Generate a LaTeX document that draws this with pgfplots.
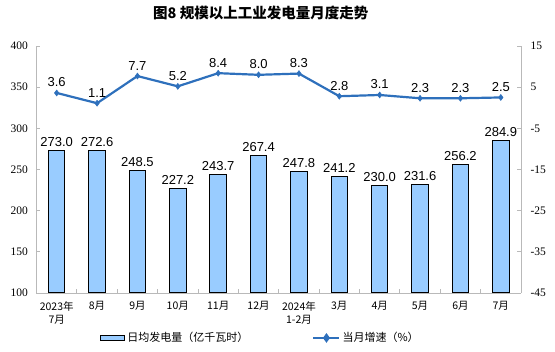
\documentclass[border=0pt]{standalone}
\usepackage{fontspec}
\usepackage{pgfplots}
\pgfplotsset{compat=1.18}
\setmainfont{Liberation Serif}
\newfontfamily\cjk{Noto Sans CJK SC}
\newfontfamily\arial{Liberation Sans}
\definecolor{barfill}{RGB}{153,204,255}
\definecolor{linecol}{RGB}{46,112,188}
\definecolor{axgray}{RGB}{185,185,185}
\begin{document}
\begin{tikzpicture}
\path[use as bounding box] (-36.5pt,-59pt) rectangle (518.5pt,293pt);
\begin{axis}[
  scale only axis, width=484.5pt, height=247pt,
  xmin=-0.5, xmax=11.5, ymin=100, ymax=400,
  ytick={100,150,...,400},
  axis x line*=bottom, axis y line*=left,
  axis line style={-, axgray, line width=0.8pt},
  xtick={0,...,11},
  xticklabels={{2023年\\7月},8月,9月,10月,11月,12月,{2024年\\1-2月},3月,4月,5月,6月,7月},
  xticklabel style={font=\cjk\fontsize{10.5}{13}\selectfont, align=center, anchor=north, yshift=-5pt},
  major x tick style={draw=none},
  minor x tick num=1,
  minor x tick style={axgray, line width=0.8pt},
  minor tick length=4pt,
  major tick length=4pt,
  y tick style={axgray, line width=0.8pt},
  yticklabel style={font=\fontsize{11.5}{13}\selectfont, xshift=-5pt},
  /pgf/number format/assume math mode=true,
  title={图8\ 规模以上工业发电量月度走势},
  title style={font=\cjk\bfseries\fontsize{14.5}{16}\selectfont, at={(0.463,1.109)}, anchor=center},
]
\addplot[ybar, bar width=16.5pt, fill=barfill, draw=black, line width=1pt,
  nodes near coords,
  every node near coord/.append style={anchor=base, yshift=4pt, inner sep=0pt, black,
    font=\arial\fontsize{13}{14}\selectfont,
    /pgf/number format/fixed, /pgf/number format/fixed zerofill, /pgf/number format/precision=1,
    /pgf/number format/assume math mode=true}]
  coordinates {(0,273.0) (1,272.6) (2,248.5) (3,227.2) (4,243.7) (5,267.4) (6,247.8) (7,241.2) (8,230.0) (9,231.6) (10,256.2) (11,284.9)};
\end{axis}
\begin{axis}[
  scale only axis, width=484.5pt, height=247pt,
  xmin=-0.5, xmax=11.5, ymin=-45, ymax=15,
  ytick={-45,-35,...,15},
  axis x line=none, axis y line*=right,
  axis line style={-, axgray, line width=0.8pt},
  major tick length=4pt,
  y tick style={axgray, line width=0.8pt},
  yticklabel style={font=\fontsize{11.5}{13}\selectfont, xshift=6pt},
  /pgf/number format/assume math mode=true,
  legend columns=2,
  legend style={draw=none, fill=none, at={(0.131,-0.182)}, anchor=west, inner xsep=0pt,
    font=\cjk\fontsize{11}{13}\selectfont,
    /tikz/every even column/.append style={column sep=62pt}},
]
\addlegendimage{legend image code/.code={\draw[fill=barfill, draw=black, line width=1.2pt] (0pt,-2.5pt) rectangle (24pt,2.5pt);}}
\addlegendentry{日均发电量（亿千瓦时）}
\addplot[linecol, line width=2.2pt, mark=diamond*, mark size=3pt, mark options={fill=linecol, draw=linecol, line width=0.5pt},
  legend image code/.code={\draw[linecol, line width=2.2pt] (0pt,0pt) -- (26pt,0pt); \fill[linecol] (13pt,0pt) +(0,3pt) -- +(2.2pt,0) -- +(0,-3pt) -- +(-2.2pt,0) -- cycle;},
  nodes near coords,
  every node near coord/.append style={anchor=base, yshift=6pt, inner sep=0pt, black,
    font=\arial\fontsize{13}{14}\selectfont,
    /pgf/number format/fixed, /pgf/number format/fixed zerofill, /pgf/number format/precision=1,
    /pgf/number format/assume math mode=true}]
  coordinates {(0,3.6) (1,1.1) (2,7.7) (3,5.2) (4,8.4) (5,8.0) (6,8.3) (7,2.8) (8,3.1) (9,2.3) (10,2.3) (11,2.5)};
\addlegendentry{当月增速（\%）}
\end{axis}
\end{tikzpicture}
\end{document}
